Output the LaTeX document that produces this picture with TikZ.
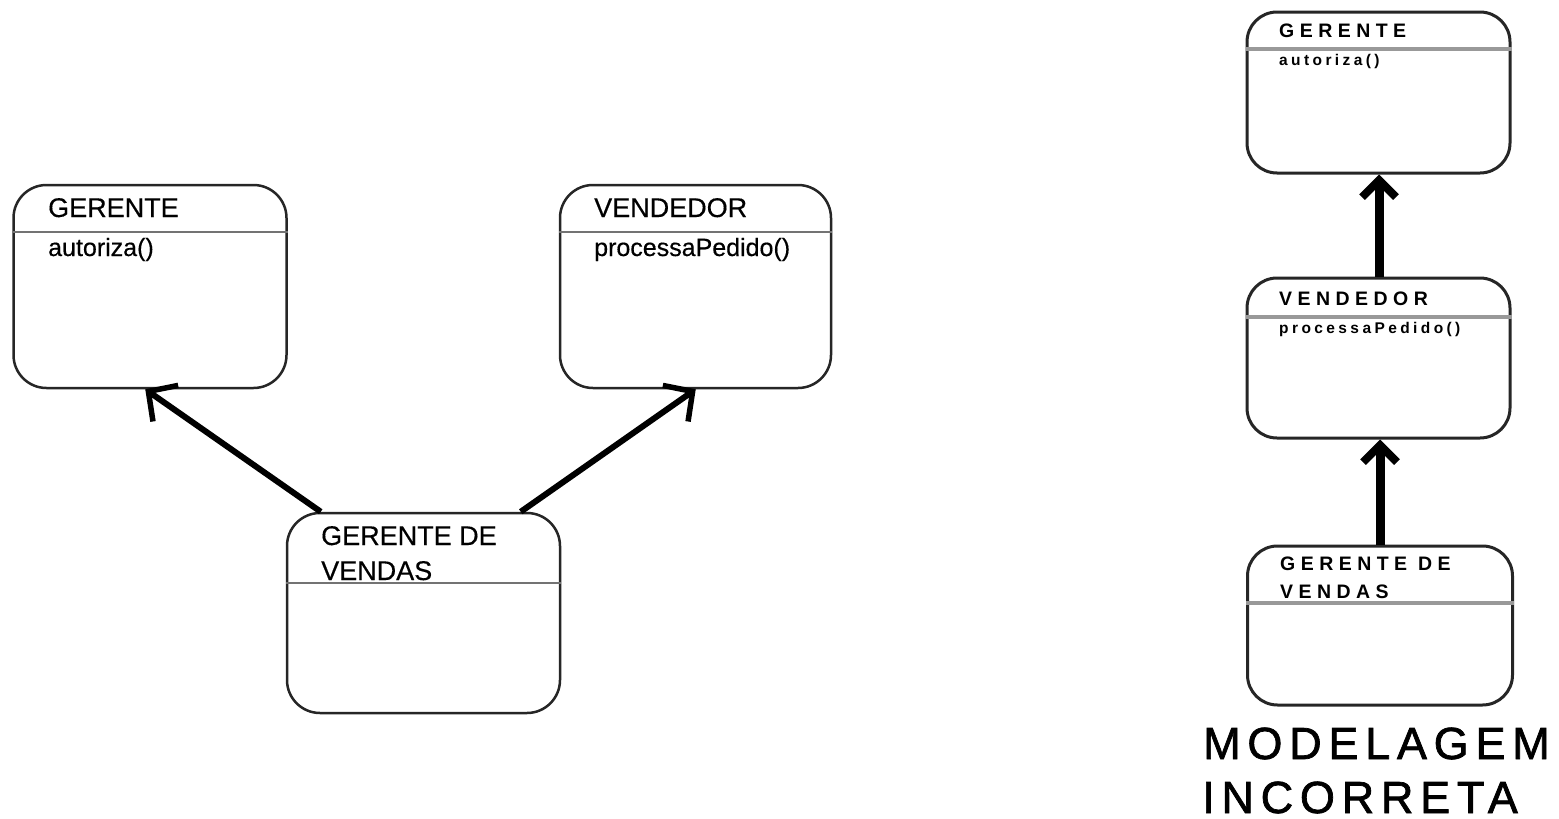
\documentclass[tikz,border=0pt]{standalone}
\usepackage{fontspec}
\setmainfont[FakeBold=0.4]{Liberation Sans}
\newfontfamily\wideA[LetterSpace=28]{Liberation Sans Bold}
\newfontfamily\wideB[LetterSpace=22]{Liberation Sans Bold}
\newfontfamily\wideC[LetterSpace=15,FakeBold=1.6]{Liberation Sans}
\usetikzlibrary{arrows.meta,calc}
\tikzset{
  cls/.style={draw=black!85, line width=2.5pt, rounded corners=33pt, inner sep=0pt, fill=white},
  clsR/.style={draw=black!85, line width=3pt, rounded corners=30pt, inner sep=0pt, fill=white},
  divL/.style={draw=black!55, line width=2.5pt},
  divR/.style={draw=black!40, line width=4pt},
  lbl/.style={anchor=base west, inner sep=0pt, font=\fontsize{27}{32}\selectfont},
  meth/.style={anchor=base west, inner sep=0pt, font=\fontsize{25}{30}\selectfont},
  lblR/.style={anchor=base west, inner sep=0pt, font=\wideA\fontsize{19.5}{22}\selectfont},
  methR/.style={anchor=base west, inner sep=0pt, font=\wideB\fontsize{15.5}{18}\selectfont},
  capt/.style={anchor=base west, inner sep=0pt, font=\wideC\fontsize{45}{50}\selectfont},
  inherL/.style={line width=6pt, -{Straight Barb[length=21pt,width=44pt,line width=5.5pt]}},
  inherR/.style={line width=9pt, -{Straight Barb[length=17pt,width=34pt,line width=8pt]}},
}
\begin{document}
\begin{tikzpicture}[x=1pt,y=-1pt]
\useasboundingbox (0,0) rectangle (1559,819);

% ---- left: multiple inheritance ----
\node[cls, minimum width=273pt, minimum height=203pt] (g) at (150,286.5) {};
\node[cls, minimum width=271pt, minimum height=203pt] (v) at (695.5,286.5) {};
\node[cls, minimum width=273pt, minimum height=200pt] (gv) at (423.5,613) {};
\draw[divL] (g.west |- 0,232) -- (g.east |- 0,232);
\draw[divL] (v.west |- 0,232) -- (v.east |- 0,232);
\draw[divL] (gv.west |- 0,583) -- (gv.east |- 0,583);

\node[lbl] (gt) at (48,217) {GERENTE};
\node[meth] (gm) at (48,256) {autoriza()};
\node[lbl] (vt) at (594,217) {VENDEDOR};
\node[meth] (vm) at (594,256) {processaPedido()};
\node[lbl] (gvt1) at (321,545) {GERENTE DE};
\node[lbl] (gvt2) at (321,580) {VENDAS};

\draw[inherL] ([xshift=35pt]gv.north west) -- ([xshift=133pt]g.south west);
\draw[inherL] ([xshift=235pt]gv.north west) -- ([xshift=137pt]v.south west);

% ---- right: chained inheritance ----
\node[clsR, minimum width=263pt, minimum height=161pt] (g2) at (1378.5,92.5) {};
\node[clsR, minimum width=263pt, minimum height=160pt] (v2) at (1378.5,358) {};
\node[clsR, minimum width=265pt, minimum height=159pt] (gv2) at (1380,625.5) {};
\draw[divR] (g2.west |- 0,49) -- (g2.east |- 0,49);
\draw[divR] (v2.west |- 0,317) -- (v2.east |- 0,317);
\draw[divR] (gv2.west |- 0,603) -- (gv2.east |- 0,603);

\node[lblR] (g2t) at (1279,37) {GERENTE};
\node[methR] (g2m) at (1279,65) {autoriza()};
\node[lblR] (v2t) at (1279,305) {VENDEDOR};
\node[methR] (v2m) at (1279,333) {processaPedido()};
\node[lblR] (gv2t1) at (1280,570) {GERENTE DE};
\node[lblR] (gv2t2) at (1280,598) {VENDAS};

\draw[inherR] (v2.north -| 1379,0) -- (g2.south -| 1379,0);
\draw[inherR] (gv2.north -| 1380,0) -- (v2.south -| 1380,0);

\node[capt] (cap1) at (1203,759) {MODELAGEM};
\node[capt] (cap2) at (1202,813) {INCORRETA};
\end{tikzpicture}
\end{document}
